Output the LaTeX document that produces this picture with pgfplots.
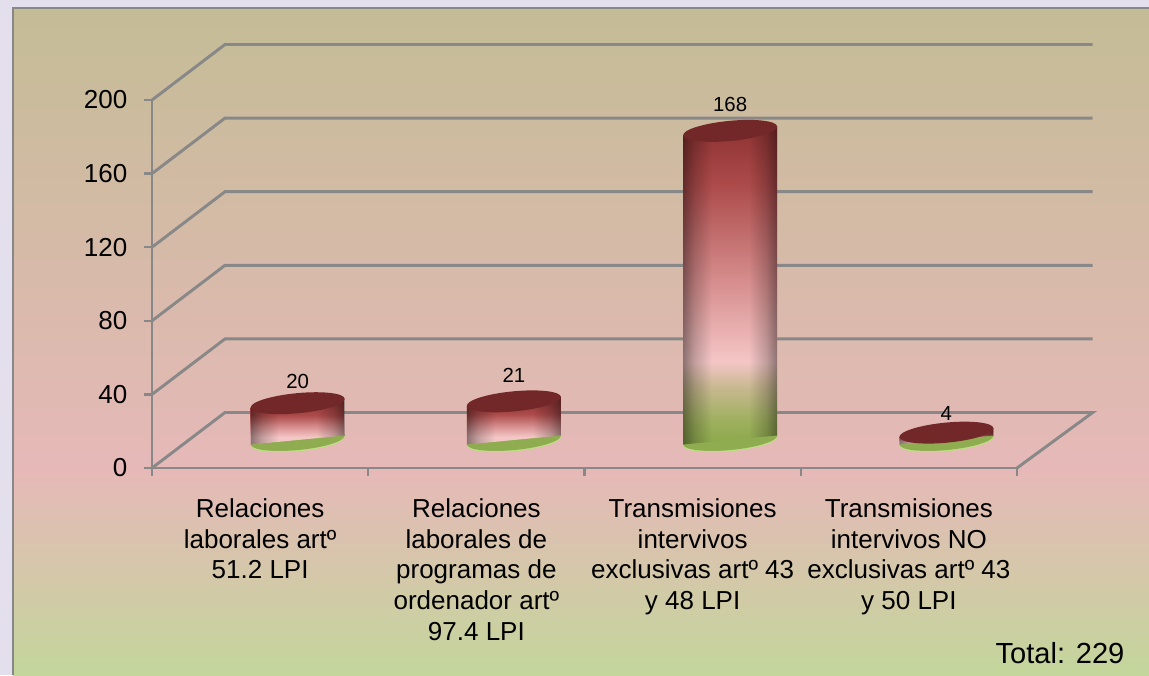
\documentclass[border=0pt]{standalone}
\usepackage{fontspec}
\setmainfont{Liberation Sans}
\usepackage{pgfplots}
\pgfplotsset{compat=1.18}
\usetikzlibrary{fadings}
\definecolor{outerbg}{HTML}{E4DFEC}
\definecolor{gridc}{HTML}{888888}
\definecolor{capc}{HTML}{722828}
\definecolor{basec}{HTML}{8FAD50}
\definecolor{rimc}{HTML}{BBE27F}
\definecolor{pgreen}{HTML}{C3D69B}
\definecolor{ppink}{HTML}{E6B9B8}
\definecolor{pkhaki}{HTML}{C4BC96}
\definecolor{b1}{HTML}{8E3232}
\definecolor{b2}{HTML}{AC4A4A}
\definecolor{b3}{HTML}{D89090}
\definecolor{b4}{HTML}{F4C6C6}
\definecolor{b5}{HTML}{C8B890}
\definecolor{b6}{HTML}{A0B060}
\definecolor{b7}{HTML}{8AA84A}
\pgfdeclareverticalshading{panelshade}{100bp}{
  color(0bp)=(pgreen); color(25bp)=(pgreen); color(40.4bp)=(ppink);
  color(75bp)=(pkhaki); color(100bp)=(pkhaki)}
\pgfdeclareverticalshading{cylbody}{100bp}{
  color(0bp)=(b7); color(25bp)=(b7); color(29bp)=(b6); color(34bp)=(b5);
  color(38bp)=(b4); color(50bp)=(b3); color(66bp)=(b2); color(75bp)=(b1); color(100bp)=(b1)}
\pgfdeclareverticalshading{cylshort}{100bp}{
  color(0bp)=(b4); color(25bp)=(b4); color(33bp)=(b4); color(44bp)=(b3);
  color(57bp)=(b2); color(75bp)=(b1); color(100bp)=(b1)}
\pgfdeclarehorizontalshading{cylsidesh}{100bp}{
  color(0bp)=(pgftransparent!58); color(25bp)=(pgftransparent!58);
  color(31bp)=(pgftransparent!80); color(40bp)=(pgftransparent!100);
  color(60bp)=(pgftransparent!100); color(69bp)=(pgftransparent!80);
  color(75bp)=(pgftransparent!58); color(100bp)=(pgftransparent!58)}
\pgfdeclarefading{cylsides}{\pgfuseshading{cylsidesh}}
\pgfdeclareplotmark{cylcap}{%
  \pgfpathellipse{\pgfpointorigin}{\pgfqpoint{35.25pt}{3.375pt}}{\pgfqpoint{-0.72pt}{7.5pt}}%
  \pgfusepathqfill}
\pgfdeclareplotmark{cylrim}{%
  \pgfpathellipse{\pgfqpoint{0pt}{-0.9pt}}{\pgfqpoint{35.25pt}{3.375pt}}{\pgfqpoint{-0.72pt}{7.5pt}}%
  \pgfusepathqfill}
\pgfplotsset{
  depth/.style={xshift=28.15pt,yshift=21pt},
  base/.style={depth,only marks,mark=#1,mark options={draw=none}},
  body/.style={depth,shade,shading=#1,draw=none,mark=none},
  sides/.style={depth,fill=black,draw=none,mark=none,path fading=cylsides},
  back/.style={color=gridc,line width=2.2pt,mark=none},
}
\begin{document}
\begin{tikzpicture}
\useasboundingbox (0,0) rectangle (861.75pt,506.25pt);
\fill[outerbg] (0,0) rectangle (861.75pt,506.25pt);
\shade[shading=panelshade] (9.75pt,0pt) rectangle (861.75pt,500.25pt);
\draw[gridc,line width=1.5pt] (9.75pt,0pt) -- (9.75pt,500.25pt) -- (861.75pt,500.25pt);
\begin{axis}[
  at={(114pt,155.25pt)},anchor=south west,
  scale only axis,width=648.75pt,height=276pt,
  xmin=0,xmax=4,ymin=0,ymax=200,clip=false,clip mode=individual,
  axis x line=bottom,axis y line=left,
  axis line style={-,color=gridc,line width=2.2pt},
  tick align=outside,
  major tick length=6pt,
  every tick/.style={color=gridc,line width=1.8pt},
  ytick={0,40,80,120,160,200},
  xtick={0,1,2,3,4},
  xticklabels={{Relaciones\\laborales artº\\51.2 LPI},
    {Relaciones\\laborales de\\programas de\\ordenador artº\\97.4 LPI},
    {Transmisiones\\intervivos\\exclusivas artº 43\\y 48 LPI},
    {Transmisiones\\intervivos NO\\exclusivas artº 43\\y 50 LPI},{}},
  x tick label style={font=\fontsize{19.5pt}{23pt}\selectfont,align=center,xshift=81.1pt,anchor=north,yshift=-13.5pt},
  y tick label style={font=\fontsize{19.5pt}{23pt}\selectfont,xshift=-9pt},
  /pgf/number format/assume math mode=true,
]
% walls and floor
\addplot[back] coordinates {(0,0)(0.3376,30.16)(4.35,30.16)(4,0)};
\addplot[back] coordinates {(0,40)(0.3376,70.16)(4.35,70.16)};
\addplot[back] coordinates {(0,80)(0.3376,110.16)(4.35,110.16)};
\addplot[back] coordinates {(0,120)(0.3376,150.16)(4.35,150.16)};
\addplot[back] coordinates {(0,160)(0.3376,190.16)(4.35,190.16)};
\addplot[back] coordinates {(0,200)(0.3376,230.16)(4.35,230.16)};
% bases of the cylinders
\addplot[base=cylrim,mark options={fill=rimc}] coordinates {(0.5,0)(1.5,0)(2.5,0)(3.5,0)};
\addplot[base=cylcap,mark options={fill=basec}] coordinates {(0.5,0)(1.5,0)(2.5,0)(3.5,0)};
% bodies
\addplot[body=cylshort] coordinates {(0.2827,-2.45)(0.7173,2.45)(0.7173,22.45)(0.2827,17.55)} --cycle;
\addplot[sides] coordinates {(0.2827,-2.45)(0.7173,2.45)(0.7173,22.45)(0.2827,17.55)} --cycle;
\addplot[body=cylshort] coordinates {(1.2827,-2.45)(1.7173,2.45)(1.7173,23.45)(1.2827,18.55)} --cycle;
\addplot[sides] coordinates {(1.2827,-2.45)(1.7173,2.45)(1.7173,23.45)(1.2827,18.55)} --cycle;
\addplot[body=cylbody] coordinates {(2.2827,-2.45)(2.7173,2.45)(2.7173,170.45)(2.2827,165.55)} --cycle;
\addplot[sides] coordinates {(2.2827,-2.45)(2.7173,2.45)(2.7173,170.45)(2.2827,165.55)} --cycle;
\addplot[body=cylshort] coordinates {(3.2827,-2.45)(3.7173,2.45)(3.7173,6.45)(3.2827,1.55)} --cycle;
\addplot[sides] coordinates {(3.2827,-2.45)(3.7173,2.45)(3.7173,6.45)(3.2827,1.55)} --cycle;
% tops and value labels
\addplot[base=cylcap,mark options={fill=capc},nodes near coords,
  every node near coord/.style={font=\fontsize{15.3pt}{18pt}\selectfont,color=black,anchor=center,yshift=16.5pt,/pgf/number format/assume math mode=true}]
  coordinates {(0.5,20)};
\addplot[base=cylcap,mark options={fill=capc},nodes near coords,
  every node near coord/.style={font=\fontsize{15.3pt}{18pt}\selectfont,color=black,anchor=center,yshift=19.5pt,/pgf/number format/assume math mode=true}]
  coordinates {(1.5,21)(2.5,168)};
\addplot[base=cylcap,mark options={fill=capc},nodes near coords,
  every node near coord/.style={font=\fontsize{15.3pt}{18pt}\selectfont,color=black,anchor=center,yshift=14pt,/pgf/number format/assume math mode=true}]
  coordinates {(3.5,4)};
\end{axis}
\node[font=\fontsize{21.8pt}{26pt}\selectfont,anchor=center] at (795pt,16.5pt) {Total: 229};
\end{tikzpicture}
\end{document}
